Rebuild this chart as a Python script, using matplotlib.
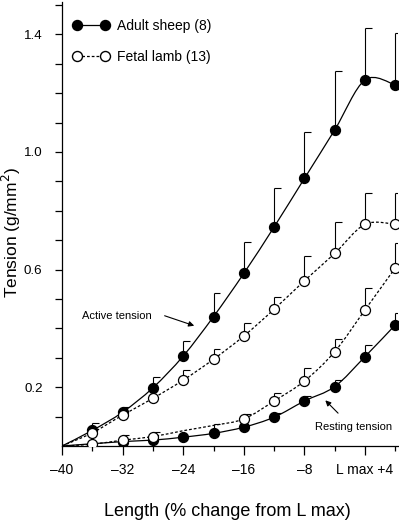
import numpy as np
import matplotlib
matplotlib.use('Agg')
import matplotlib.pyplot as plt
from matplotlib.path import Path
from matplotlib.patches import PathPatch
from matplotlib.lines import Line2D

plt.rcParams['font.family'] = ['Liberation Sans', 'DejaVu Sans']

# % change from L max
lengths = [-36, -32, -28, -24, -20, -16, -12, -8, -4, 0, 4]
origin = (-40, 0.0)   # all curves start here

# tension, g/mm2 (nan = no point drawn)
adult_active = [0.053, 0.115, 0.198, 0.306, 0.44, 0.587, 0.745, 0.91, 1.075, 1.245, 1.228]
adult_active_top = [0.077, 0.134, 0.236, 0.358, 0.522, 0.695, 0.877, 1.069, 1.277, 1.42, 1.404]

fetal_active = [0.045, 0.105, 0.162, 0.224, 0.295, 0.374, 0.465, 0.562, 0.655, 0.754, 0.754]
fetal_active_top = [np.nan, np.nan, np.nan, 0.259, 0.329, 0.417, 0.508, 0.646, 0.761, 0.859, 0.859]

adult_rest = [np.nan, 0.015, 0.02, 0.03, 0.043, 0.064, 0.098, 0.153, 0.202, 0.304, 0.412]
adult_rest_top = [np.nan, np.nan, np.nan, np.nan, 0.075, np.nan, 0.113, 0.17, 0.224, 0.344, 0.453]

fetal_rest = [0.006, 0.02, 0.032, 0.052, 0.07, 0.092, 0.153, 0.221, 0.321, 0.463, 0.606]
fetal_rest_top = [np.nan, 0.037, 0.047, np.nan, np.nan, 0.109, 0.181, 0.264, 0.363, 0.536, 0.691]
fetal_rest_marked = [0, 1, 2, 5, 6, 7, 8, 9, 10]   # circles at -24, -20 not printed


def smooth_path(xs, ys):
    # catmull-rom through the points, as bezier segments
    pts = np.array([origin] + [(x, y) for x, y in zip(xs, ys) if not np.isnan(y)])
    verts = [pts[0]]
    codes = [Path.MOVETO]
    n = len(pts)
    for i in range(n - 1):
        p0 = pts[max(i - 1, 0)]
        p1 = pts[i]
        p2 = pts[i + 1]
        p3 = pts[min(i + 2, n - 1)]
        verts += [p1 + (p2 - p0) / 6, p2 - (p3 - p1) / 6, p2]
        codes += [Path.CURVE4] * 3
    return Path(verts, codes)


fig = plt.figure(figsize=(3.99, 5.22), dpi=100)
ax = fig.add_axes([62 / 399, 76 / 522, 335.6 / 399, 444 / 522])

dotted = (0, (2.2, 1.6))
series = [
    (adult_active, adult_active_top, '-', 'black', None),
    (fetal_active, fetal_active_top, dotted, 'white', None),
    (adult_rest, adult_rest_top, '-', 'black', None),
    (fetal_rest, fetal_rest_top, dotted, 'white', fetal_rest_marked),
]

cap = 0.9
for vals, tops, ls, face, marks in series:
    ax.add_patch(PathPatch(smooth_path(lengths, vals), fill=False, lw=0.9,
                           ls=ls, edgecolor='black', zorder=2))
    for x, v, t in zip(lengths, vals, tops):
        if np.isnan(t):
            continue
        ax.vlines(x, v, t, color='black', lw=0.8, zorder=1)
        ax.hlines(t, x, x + cap, color='black', lw=0.8, zorder=1)
    ax.plot(lengths, vals, ls='none', marker='o', ms=7.2, mfc=face, mec='black',
            mew=0.9, markevery=marks, zorder=3)

ax.set_xlim(-40, 4.3)
ax.set_ylim(0, 1.51)

for s in ['top', 'right']:
    ax.spines[s].set_visible(False)
for s in ['left', 'bottom']:
    ax.spines[s].set_linewidth(0.9)

ax.set_xticks([-40, -32, -24, -16, -8, 0])
ax.set_xticklabels(['\u201340', '\u201332', '\u201324', '\u201316', '\u20138', 'L max +4'])
ax.set_xticks([-36, -28, -20, -12, -4, 4], minor=True)
ax.set_yticks([0.2, 0.6, 1.0, 1.4])
ax.set_yticklabels(['0.2', '0.6', '1.0', '1.4'])
ax.set_yticks([0.1, 0.3, 0.4, 0.5, 0.7, 0.8, 0.9, 1.1, 1.2, 1.3, 1.5], minor=True)

ax.tick_params(axis='x', which='major', length=6.5, width=0.9, pad=5.5, labelsize=10)
ax.tick_params(axis='x', which='minor', length=3.6, width=0.9)
ax.tick_params(axis='y', which='both', length=5, width=0.9, pad=9, labelsize=9.6)

fig.text(227 / 399, 1 - 511 / 522, 'Length (% change from L max)', ha='center', va='center',
         fontsize=13)
fig.text(11 / 399, 1 - 232 / 522, 'Tension (g/mm$^2$)', ha='center', va='center',
         rotation=90, fontsize=12.5)

ax.annotate('', xy=(-22.2, 0.406), xytext=(-26.8, 0.446),
            arrowprops=dict(arrowstyle='-|>', lw=0.8, color='black', mutation_scale=8))
ax.text(-32.7, 0.442, 'Active tension', ha='center', va='center', fontsize=8)
ax.annotate('', xy=(-5.5, 0.162), xytext=(-3.3, 0.105),
            arrowprops=dict(arrowstyle='-|>', lw=0.8, color='black', mutation_scale=8))
ax.text(-1.45, 0.066, 'Resting tension', ha='center', va='center', fontsize=8)

handles = [
    Line2D([], [], color='black', lw=0.9, marker='o', ms=7.2, mfc='black', mec='black'),
    Line2D([], [], color='black', lw=0.9, ls=dotted, marker='o', ms=7.2, mfc='white',
           mec='black'),
]
ax.legend(handles, ['Adult sheep (8)', 'Fetal lamb (13)'], loc='upper left',
          bbox_to_anchor=(72.8 / 399, 1 - 19 / 522), bbox_transform=fig.transFigure,
          frameon=False, borderpad=0, borderaxespad=0, numpoints=2, handlelength=2.62,
          handletextpad=0.56, labelspacing=1.25, fontsize=10)

fig.savefig('out.png', dpi=100)
